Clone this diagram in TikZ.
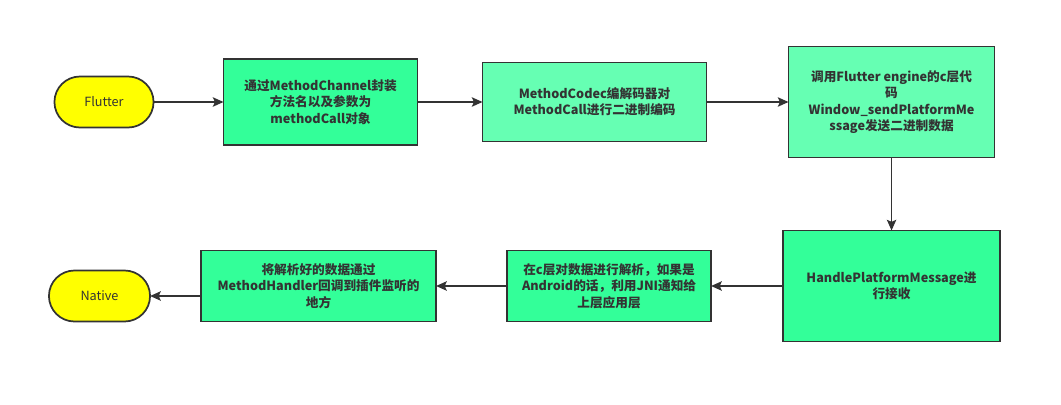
\documentclass[tikz,border=0pt]{standalone}
\usepackage{fontspec}
\newfontfamily\cjk{Noto Sans CJK SC}
\usepackage{tikz}
\usetikzlibrary{positioning}
\usetikzlibrary{arrows.meta}
\usetikzlibrary{shapes.misc}
\definecolor{linegray}{HTML}{333333}
\definecolor{termyellow}{HTML}{FFFF00}
\definecolor{stepgreen}{HTML}{33FF99}
\definecolor{lightgreen}{HTML}{66FFB3}
\tikzset {
  % terminal vertices
  term/.style = {draw=linegray, line width=1.3pt, fill=termyellow, rounded rectangle,
    minimum height=38.25pt, outer sep=0pt, text=linegray, font=\cjk\fontsize{9.5}{12}\selectfont},
  % process boxes
  stepbox/.style = {draw=linegray, line width=1.3pt, fill=stepgreen, rectangle,
    outer sep=0pt, align=center, text=linegray, font=\cjk\bfseries\fontsize{9.5}{12.2}\selectfont},
  lightbox/.style = {stepbox, fill=lightgreen},
  % connectors
  flow/.style = {draw=linegray, line width=1.3pt, -{Stealth[length=8pt, width=7pt, inset=1.5pt]}},
}

\begin{document}
\begin{tikzpicture}[x=0.75pt, y=-0.75pt]
  \useasboundingbox (0,0) rectangle (1061,404);

  \node[term, minimum width=81pt] (flutter) at (104,102) {Flutter};
  \node[stepbox, minimum width=145.5pt, minimum height=64.5pt, right=52.5pt of flutter] (wrap)
    {通过MethodChannel封装\\方法名以及参数为\\methodCall对象};
  \node[lightbox, minimum width=168pt, minimum height=59.25pt, right=48.75pt of wrap] (codec)
    {MethodCodec编解码器对\\MethodCall进行二进制编码};
  \node[lightbox, minimum width=154.5pt, minimum height=83.25pt, right=61.5pt of codec] (engine)
    {调用Flutter engine的c层代\\码\\Window\_sendPlatformMe\\ssage发送二进制数据};
  \node[stepbox, minimum width=162.75pt, minimum height=83.25pt, below=54.75pt of engine] (handle)
    {HandlePlatformMessage进\\行接收};
  \node[stepbox, minimum width=153pt, minimum height=53.25pt, left=54pt of handle] (parse)
    {在c层对数据进行解析，如果是\\Android的话，利用JNI通知给\\上层应用层};
  \node[stepbox, minimum width=176.25pt, minimum height=53.25pt, left=53.25pt of parse] (callback)
    {将解析好的数据通过\\MethodHandler回调到插件监听的\\地方};
  \node[term, minimum width=82.5pt, left=38.25pt of callback, yshift=-7.5pt] (native) {Native};

  \draw[flow] (flutter) -- (wrap);
  \draw[flow] (wrap) -- (codec);
  \draw[flow] (codec) -- (engine);
  \draw[flow] (engine) -- (handle);
  \draw[flow] (handle) -- (parse);
  \draw[flow] (parse) -- (callback);
  \draw[flow] (callback.west |- native) -- (native);
\end{tikzpicture}
\end{document}
